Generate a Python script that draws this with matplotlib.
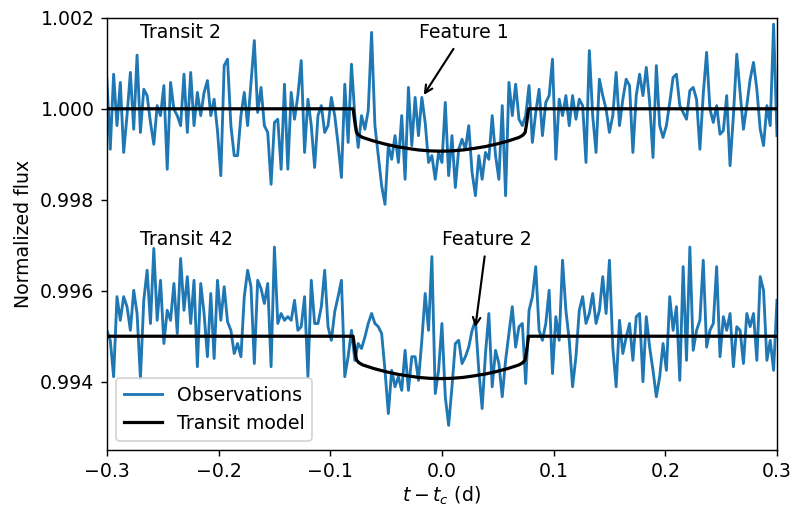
import numpy as np
import matplotlib
matplotlib.use("Agg")
import matplotlib.pyplot as plt

plt.rcParams["font.size"] = 10.6

# Time grid of the light curves (days from mid-transit)
T_START, T_STEP, N_POINTS = -0.3, 0.003, 201

# Flux deviations in ppm, transit 2
obs_transit2_ppm = [
    650, -890, 760, -370, 580, -960, -150, 800, -450, 1180,
    -520, 430, 290, -300, -780, 70, -150, 510, -1330, 580,
    -10, -150, -370, 760, -520, 800, -370, 360, -150, 360,
    620, -150, 210, -480, -1470, 950, 1090, -370, -1030, -1030,
    -150, 360, -370, 580, 1500, -80, 470, -370, -520, -1660,
    -300,
    -230, -1330, 540, -1330, 360, -230, 290, 1060, -960, 210,
    -370, -1290, -150, 70, -520, -370, 250, -150, -780, -1510,
    540, -740, 980, -150, -850, -150, -450, -40, 1680, -370,
    -1030, -1690, -2100, -810, -1110, -590, -1180, -150, -1550, 470,
    -810, 250, -590, 250, -300, -1180, -1030, -1550, -960, -1180,
    140, -1470, -590, -1730, -890, -670, -890, -370, -1400, -1910,
    -1030, -1550, -960, -1110, -150, -1030, -1550, 70, -1910, 580,
    -150, 540, -230, -370, -150, 510, -740, -80, 430, -590,
    140, 290, 1090, -1110, 210, -150, 290, -370, 290, -230,
    210, 70, -1180, 1280, -150, -960, 650, 290, -10, -520,
    -150, 800, -370, 210, 650, 510, -960, 290, 760, 290,
    910, 140, -1070, 950, -370, -630, -370, 140, 690, 760,
    70, -80, -230, 400, 470, 210, -890, 320, 1240, -10,
    -300, 70, -560, -480, 290, -1250, -150, 1200, 360, -450,
    70, 650, 1020, 430, -450, -810, 70, -370, 1860, -590,
]

# Flux deviations in ppm, transit 42
obs_transit42_ppm = [
    130, -90, -890, 870, 350, 870, 650, 130, 1010, 500,
    -930, 790, 1450, 280, 1930, 350, 1230, -160, 570, 350,
    1160, 60, 1710, 570, 1310, 280, 1230, -670, 1160, 500,
    -450, 940, -490, 1230, 350, 1090, 320, 130, -380, -160,
    -450, 870, 1450, 1090, -600, 1230, 1050, 720, 1160, -670,
    1960,
    280, 500, 350, 430, 350, 790, 130, 210, 870, -890,
    1230, 280, 280, 650, 1450, 210, -90, 540, 870, 1230,
    -890, -450, 130, -530, -160, -270, -20, 280, 500, 280,
    210, 60, -750, -1700, -750, -1110, -890, -1190, -310, -1190,
    -450, -450, -970, -90, 940, 130, 1750, -1260, -750, 280,
    -1330, -1960, -1110, -160, -90, -600, -450, -240, 130, 350,
    -750, -1590, -380, 500, -1110, -310, -600, -1330, -530, 60,
    650, -240, 210, 280, -1040, 570, 870, 1530, 130, -90,
    280, 1010, -820, 430, -90, 1670, 570, -90, -1110, -450,
    570, 870, 280, 500, 940, 280, 570, 1310, 500, 1670,
    -240, -1110, 350, -380, -20, 280, -530, 430, 500, -1000,
    430, -240, -750, -1330, -890, -160, -750, 870, 130, 650,
    -970, 1530, -530, 1960, -310, 130, 350, 1670, -240, 130,
    280, 1530, -450, 430, 130, 500, -670, 210, 130, -600,
    500, 210, 500, -530, 1310, 1010, -530, -90, -750, 790,
]

# Limb-darkened transit model
model_t = [-0.3, -0.0795, -0.0785, -0.0775, -0.0765, -0.0745, -0.071,
           -0.061, -0.051, -0.041, -0.031, -0.021, -0.011, -0.001,
           0.009, 0.019, 0.029, 0.039, 0.049, 0.059, 0.069,
           0.0725, 0.0745, 0.0755, 0.0765, 0.0775, 0.3]
model_ppm = [0, 0, -200, -380, -520, -580, -630,
             -710, -775, -830, -870, -905, -925, -932,
             -925, -905, -870, -830, -775, -710, -630,
             -580, -520, -380, -200, 0, 0]

BASE_2 = 1.000
BASE_42 = 0.995   # transit 42 shifted down for display

t = T_START + T_STEP * np.arange(N_POINTS)
flux2 = BASE_2 + np.array(obs_transit2_ppm) * 1e-6
flux42 = BASE_42 + np.array(obs_transit42_ppm) * 1e-6
mt = np.array(model_t)
mflux = np.array(model_ppm) * 1e-6

fig = plt.figure(figsize=(792 / 128, 509 / 128), dpi=128)
ax = fig.add_axes([0.135, 0.116, 0.846, 0.849])

ax.plot(t, flux2, color="#1f77b4", lw=1.6, label="Observations")
ax.plot(mt, BASE_2 + mflux, color="black", lw=1.8, label="Transit model")
ax.plot(t, flux42, color="#1f77b4", lw=1.6)
ax.plot(mt, BASE_42 + mflux, color="black", lw=1.8)

ax.text(-0.2705, 1.00167, "Transit 2", ha="left", va="center")
ax.text(-0.2705, 0.99712, "Transit 42", ha="left", va="center")

ax.annotate("Feature 1", xy=(-0.018, 1.00024), xytext=(0.0196, 1.00167),
            ha="center", va="center",
            arrowprops=dict(arrowstyle="->", color="black", lw=1.2))
ax.annotate("Feature 2", xy=(0.0295, 0.99512), xytext=(0.0402, 0.99712),
            ha="center", va="center",
            arrowprops=dict(arrowstyle="->", color="black", lw=1.2))

ax.set_xlim(-0.3, 0.3)
ax.set_ylim(0.9925, 1.002)
ax.set_xticks(np.arange(-0.3, 0.31, 0.1))
ax.set_yticks([0.994, 0.996, 0.998, 1.000, 1.002])
ax.yaxis.set_major_formatter(matplotlib.ticker.FormatStrFormatter("%.3f"))
ax.set_xlabel(r"$t - t_c$ (d)", labelpad=2)
ax.set_ylabel("Normalized flux")
ax.legend(loc="lower left")

fig.savefig("out.png", dpi=128)
